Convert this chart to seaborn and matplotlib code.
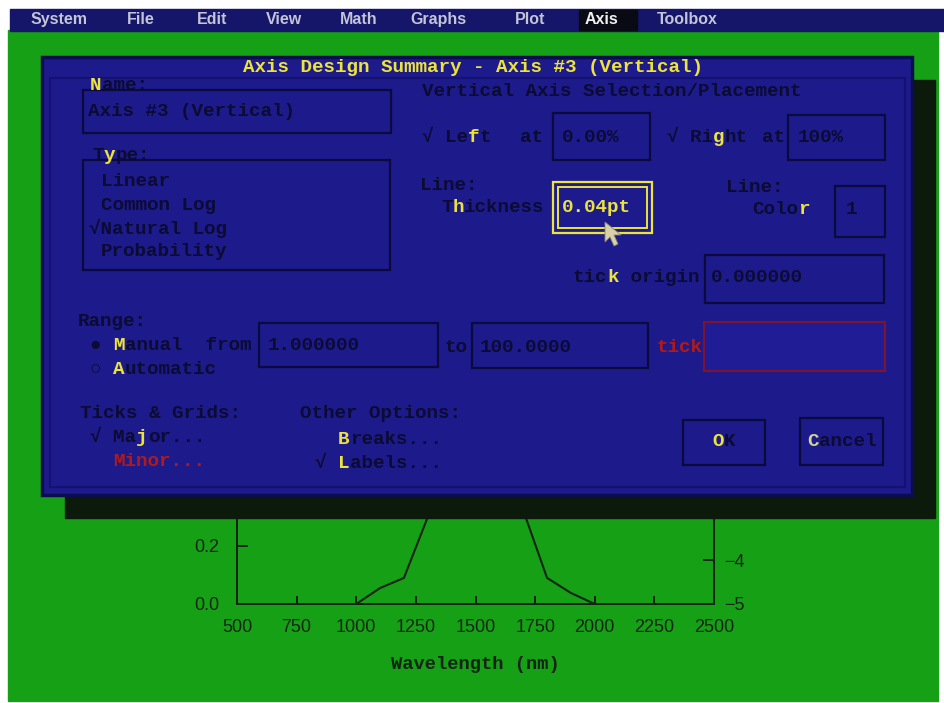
"""
DOS 風の Axis Design Summary ダイアログと、その背後のスペクトル図を再現する
"""
import matplotlib
matplotlib.use('Agg')
import matplotlib.pyplot as plt
from matplotlib.patches import Rectangle, Polygon
import pandas as pd
import seaborn as sns

# ---- データ --------------------------------------------------------
WAVELENGTH = [1000, 1100, 1200, 1300, 1350, 1400, 1450, 1500,
              1550, 1600, 1650, 1710, 1800, 1900, 2000]
ABSORBANCE = [0.0, 0.055, 0.09, 0.30, 0.48, 0.68, 0.82, 0.88,
              0.84, 0.70, 0.50, 0.30, 0.09, 0.038, 0.0]
X_TICKS = [500, 750, 1000, 1250, 1500, 1750, 2000, 2250, 2500]
LEFT_TICKS = [0.0, 0.2]         # ダイアログの外に見えている目盛りだけ
RIGHT_TICKS = [-5, -4]
X_LABEL = 'Wavelength (nm)'

MENU_ITEMS = ['System', 'File', 'Edit', 'View', 'Math', 'Graphs', 'Plot', 'Axis', 'Toolbox']
MENU_X = [31, 127, 197, 266, 340, 410, 515, 585, 657]
ACTIVE_MENU = 'Axis'

TITLE = 'Axis Design Summary - Axis #3 (Vertical)'
AXIS_TYPES = ['Linear', 'Common Log', 'Natural Log', 'Probability']
CHECKED_TYPE = 'Natural Log'

# ---- 色 ------------------------------------------------------------
W, H = 944, 703
GREEN = '#16a016'
NAVY = '#15156a'
BLUE = '#1d1a8c'
SHADOW = '#0b1a0a'
DARK = '#0b0b33'
EDGE = '#0a0a3c'
YELLOW = '#ece43a'
RED = '#b01a1a'
INK = '#142414'

FS = 13.9                      # ダイアログ文字サイズ (pt)
CW = FS / 72 * 100 * 0.6       # 等幅 1 文字の幅 (px)
MONO = 'Liberation Mono'

sns.set_theme(style='ticks')
plt.rcParams['font.family'] = ['Liberation Sans', 'DejaVu Sans']

fig = plt.figure(figsize=(W / 100, H / 100), dpi=100, facecolor='white')


def px_axes(z):
    a = fig.add_axes([0, 0, 1, 1], zorder=z)
    a.set_xlim(0, W)
    a.set_ylim(H, 0)
    a.axis('off')
    a.patch.set_alpha(0)
    return a


def box(a, x0, y0, x1, y1, fc=BLUE, ec=EDGE, lw=1.6, z=2):
    a.add_patch(Rectangle((x0, y0), x1 - x0, y1 - y0, facecolor=fc,
                          edgecolor=ec, linewidth=lw, zorder=z))


def mono(a, x, y, s, color):
    if s.strip():
        a.text(x, y, s, family=[MONO, 'DejaVu Sans Mono'], fontsize=FS,
               fontweight='bold', color=color, ha='left', va='center', zorder=5)


def label(a, x, y, text, hot=None, color=DARK, hot_color=YELLOW):
    """等幅フォントで 前 / ホットキー / 後 の 3 つに分けて描く"""
    if hot is None:
        mono(a, x, y, text, color)
        return
    mono(a, x, y, text[:hot], color)
    mono(a, x + hot * CW, y, text[hot], hot_color)
    mono(a, x + (hot + 1) * CW, y, text[hot + 1:], color)


# ---- 背景（緑の画面とメニューバー） -------------------------------
bg = px_axes(0)
bg.add_patch(Rectangle((8, 30), 930, 671, color=GREEN))
bg.add_patch(Rectangle((10, 9), 934, 22, color=NAVY))
for name, mx in zip(MENU_ITEMS, MENU_X):
    col = '#c4c4d8'
    if name == ACTIVE_MENU:
        bg.add_patch(Rectangle((mx - 6, 10), 58, 20, color='#0a0a14'))
        col = '#f0f0f0'
    bg.text(mx, 19.5, name, fontsize=11.5, fontweight='bold', color=col,
            ha='left', va='center')

# ---- スペクトル図 --------------------------------------------------
df = pd.DataFrame({'wavelength': WAVELENGTH, 'absorbance': ABSORBANCE})
ax = fig.add_axes([237 / W, 1 - 604 / H, 477 / W, 290 / H], zorder=1)
ax.patch.set_alpha(0)
sns.lineplot(data=df, x='wavelength', y='absorbance', ax=ax,
             color=INK, linewidth=1.5, sort=False)
ax.set_xlim(500, 2500)
ax.set_ylim(0, 1.0)
ax.set_xticks(X_TICKS)
ax.set_yticks(LEFT_TICKS)
ax.set_yticklabels([f'{v:.1f}' for v in LEFT_TICKS])
ax.set_xlabel(X_LABEL, family='Liberation Mono', fontweight='bold',
              fontsize=13.5, color=INK, labelpad=14)
ax.set_ylabel('')
ax.tick_params(axis='x', direction='in', length=6, width=1.4, pad=11,
               labelsize=13, colors=INK)
ax.tick_params(axis='y', direction='in', length=8, width=1.4, pad=13,
               labelsize=13, colors=INK)
for s in ax.spines.values():
    s.set_color(INK)
    s.set_linewidth(1.4)

ax2 = ax.twinx()
ax2.set_zorder(1)
ax2.patch.set_alpha(0)
ax2.set_ylim(-5, 1.6)
ax2.set_yticks(RIGHT_TICKS)
ax2.tick_params(axis='y', direction='in', length=8, width=1.4, pad=7,
                labelsize=13, colors=INK)
for s in ax2.spines.values():
    s.set_color(INK)
    s.set_linewidth(1.4)

# ---- ダイアログ ----------------------------------------------------
dl = px_axes(3)
dl.add_patch(Rectangle((65, 80), 870, 438, color=SHADOW, zorder=1))
box(dl, 42, 57, 912, 495, fc=BLUE, ec='#0c0c50', lw=2.5, z=2)
box(dl, 50, 78, 905, 487, fc='none', ec='#14126e', lw=1.5, z=2)

dl.text(243, 67, TITLE, family=MONO, fontsize=FS, fontweight='bold',
        color=YELLOW, ha='left', va='center', zorder=5)

# Name / Type
box(dl, 83, 90, 391, 133)
label(dl, 90, 86, 'Name:', hot=0)
label(dl, 88, 111, 'Axis #3 (Vertical)')
box(dl, 83, 160, 390, 270)
label(dl, 92, 156, 'Type:', hot=1)
for i, t in enumerate(AXIS_TYPES):
    if t == CHECKED_TYPE:
        label(dl, 89, 182 + i * 23, '\u221a' + t)
    else:
        label(dl, 101, 182 + i * 23, t)

# Placement
label(dl, 422, 92, 'Vertical Axis Selection/Placement')
label(dl, 422, 137, '\u221a Left', hot=4)
label(dl, 520, 137, 'at')
box(dl, 553, 113, 650, 160)
label(dl, 562, 137, '0.00%')
label(dl, 667, 137, '\u221a Right', hot=4)
label(dl, 762, 137, 'at')
box(dl, 788, 115, 885, 160)
label(dl, 798, 137, '100%')

# Line thickness / color
label(dl, 420, 185, 'Line:')
label(dl, 441, 207, 'Thickness', hot=1)
box(dl, 553, 182, 652, 233, fc=BLUE, ec=YELLOW, lw=1.6, z=3)
box(dl, 558, 187, 647, 228, fc='none', ec=YELLOW, lw=1.4, z=3)
dl.text(562, 207, '0.04pt', family=MONO, fontsize=FS, fontweight='bold',
        color=YELLOW, ha='left', va='center', zorder=5)
label(dl, 726, 187, 'Line:')
label(dl, 752, 209, 'Color', hot=4)
box(dl, 835, 186, 885, 237)
label(dl, 846, 209, '1')

label(dl, 573, 278, 'tick origin', hot=3)
box(dl, 705, 255, 884, 303)
label(dl, 711, 278, '0.000000')

# Range
label(dl, 78, 321, 'Range:')
label(dl, 90, 345, '\u25cf Manual  from', hot=2)
box(dl, 259, 323, 438, 367)
label(dl, 268, 345, '1.000000')
label(dl, 444, 347, 'to')
box(dl, 472, 323, 648, 368)
label(dl, 480, 347, '100.0000')
label(dl, 656, 347, 'tick', color=RED)
box(dl, 704, 322, 885, 371, fc='#201c96', ec='#7a1430', lw=1.6)
label(dl, 90, 369, '\u25cb Automatic', hot=2)

# Ticks & Grids / Other Options
label(dl, 80, 413, 'Ticks & Grids:')
label(dl, 90, 438, '\u221a Major...', hot=4)
label(dl, 113, 462, 'Minor...', color=RED)
label(dl, 300, 413, 'Other Options:')
label(dl, 315, 439, '  Breaks...', hot=2)
label(dl, 315, 463, '\u221a Labels...', hot=2)

# Buttons
box(dl, 683, 420, 765, 465)
label(dl, 712, 442, 'OK', hot=0)
box(dl, 800, 418, 883, 465)
label(dl, 807, 442, 'Cancel', hot=0, hot_color='#d4d48c')

# マウスカーソル
dl.add_patch(Polygon([(605, 222), (605, 242), (610, 237), (614, 246),
                      (618, 244), (614, 235), (621, 235)], closed=True,
                     facecolor='#d8d0a8', edgecolor='#8a8670', lw=0.6, zorder=7))

fig.savefig('out.png', dpi=100, facecolor='white')
